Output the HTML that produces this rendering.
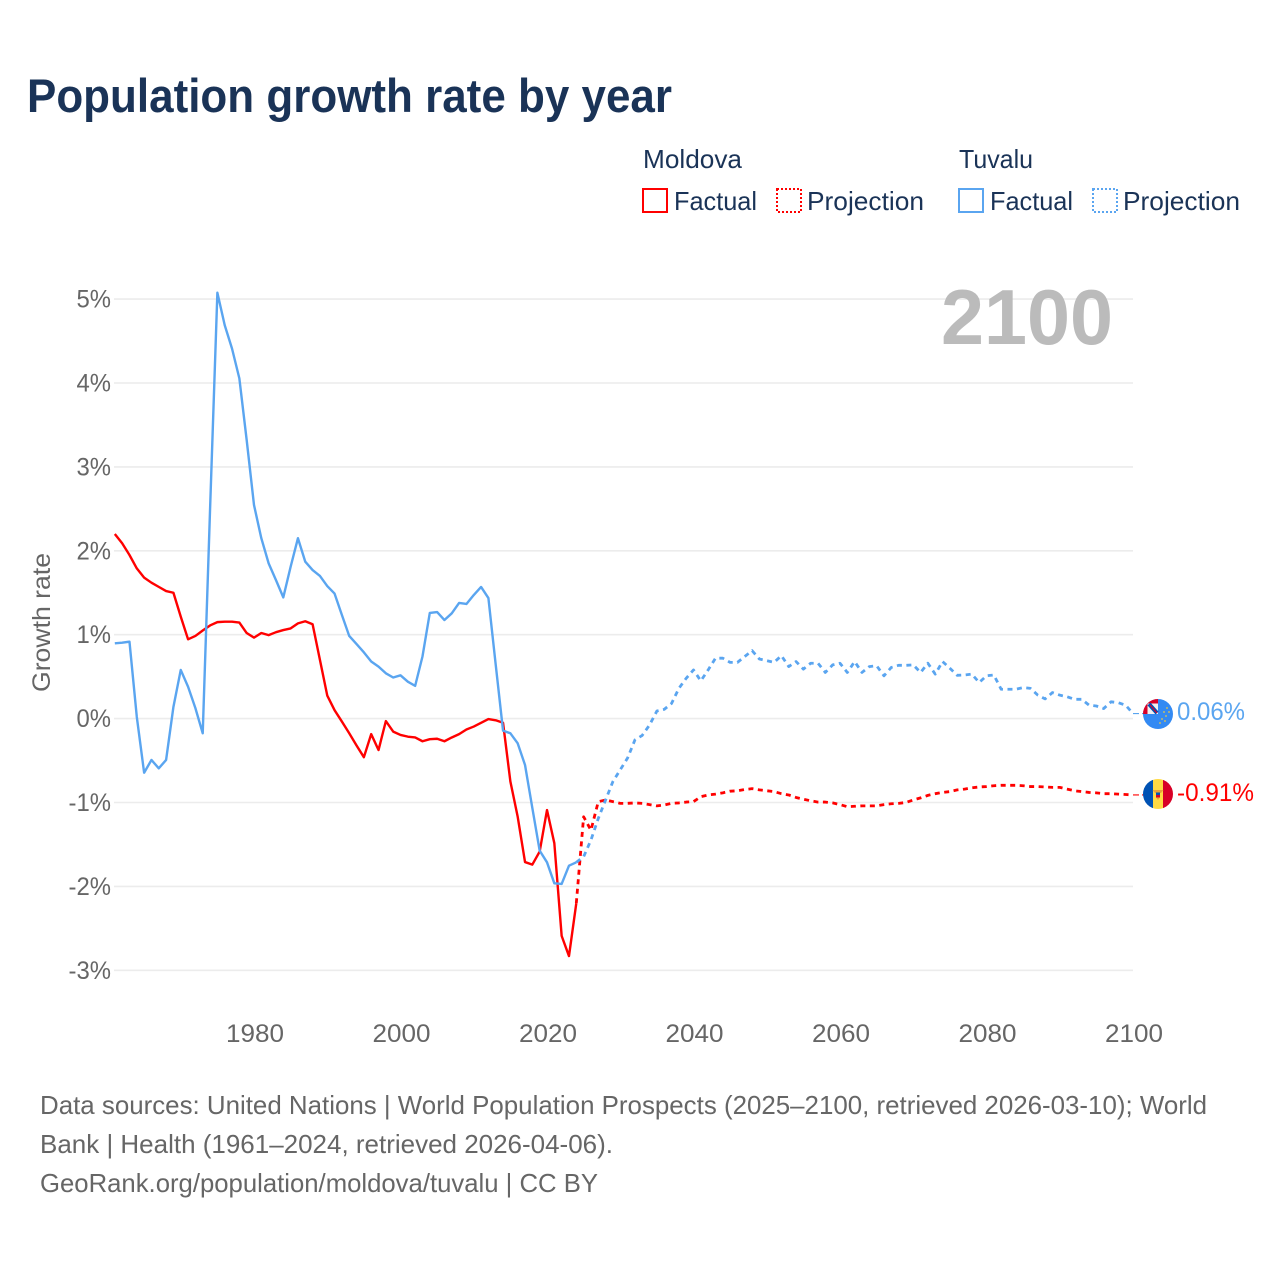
<!DOCTYPE html>
<html lang="en">
<head>
<meta charset="utf-8">
<title>Population growth rate by year</title>
<style>
html,body{margin:0;padding:0;background:#fff}
svg{display:block}
text{font-family:"Liberation Sans",sans-serif}
</style>
</head>
<body>
<svg id="chart" xmlns="http://www.w3.org/2000/svg" width="1280" height="1280" viewBox="0 0 1280 1280">
  <rect width="1280" height="1280" fill="#fff"/>
  <text x="27" y="112" font-size="47" font-weight="700" fill="#1a3357" textLength="645" lengthAdjust="spacingAndGlyphs">Population growth rate by year</text>

  <g font-size="26" fill="#1a3357">
    <text x="643" y="168" textLength="99" lengthAdjust="spacingAndGlyphs">Moldova</text>
    <rect x="643" y="189" width="24" height="23" fill="none" stroke="#ff0000" stroke-width="2"/>
    <text x="674" y="210" textLength="83" lengthAdjust="spacingAndGlyphs">Factual</text>
    <rect x="777" y="189" width="24" height="23" fill="none" stroke="#ff0000" stroke-width="2" stroke-dasharray="2 2"/>
    <text x="807" y="210" textLength="117" lengthAdjust="spacingAndGlyphs">Projection</text>
    <text x="959" y="168" textLength="74" lengthAdjust="spacingAndGlyphs">Tuvalu</text>
    <rect x="959" y="189" width="24" height="23" fill="none" stroke="#5aa5f0" stroke-width="2"/>
    <text x="990" y="210" textLength="83" lengthAdjust="spacingAndGlyphs">Factual</text>
    <rect x="1093" y="189" width="24" height="23" fill="none" stroke="#5aa5f0" stroke-width="2" stroke-dasharray="2 2"/>
    <text x="1123" y="210" textLength="117" lengthAdjust="spacingAndGlyphs">Projection</text>
  </g>

  <g id="grid"></g>
  <g id="yticks" font-size="25" fill="#666" text-anchor="end"></g>
  <g id="xticks" font-size="25" fill="#666" text-anchor="middle"></g>

  <text transform="translate(50,692) rotate(-90)" font-size="25" fill="#666" textLength="139" lengthAdjust="spacingAndGlyphs">Growth rate</text>
  <text x="941" y="344" font-size="78" font-weight="700" fill="#bbbbbb" textLength="172" lengthAdjust="spacingAndGlyphs">2100</text>

  <g id="series"></g>

  <g>
    <clipPath id="tvClip"><circle cx="1158" cy="714" r="15"/></clipPath>
    <g clip-path="url(#tvClip)">
      <rect x="1143" y="699" width="30" height="30" fill="#338af3"/>
      <rect x="1143" y="699" width="15" height="15" fill="#f0f0f0"/>
      <rect x="1143" y="699" width="15" height="4.5" fill="#d80027"/>
      <rect x="1143" y="699" width="4.5" height="15" fill="#d80027"/>
      <path d="M1149 704L1157 713" stroke="#0052b4" stroke-width="4"/>
      <path d="M1150 705L1157 713" stroke="#d80027" stroke-width="1.2"/>
      <g fill="#e8c64a">
        <circle cx="1167" cy="708" r="0.9"/><circle cx="1164" cy="712" r="0.9"/><circle cx="1169" cy="712" r="0.9"/><circle cx="1166" cy="716" r="0.9"/><circle cx="1162" cy="719" r="0.9"/><circle cx="1165" cy="721" r="0.9"/><circle cx="1160" cy="723" r="0.9"/>
      </g>
    </g>
  </g>
  <g>
    <clipPath id="mdClip"><circle cx="1158" cy="794" r="15"/></clipPath>
    <g clip-path="url(#mdClip)">
      <rect x="1143" y="779" width="10" height="30" fill="#0052b4"/>
      <rect x="1153" y="779" width="10" height="30" fill="#ffda44"/>
      <rect x="1163" y="779" width="10" height="30" fill="#d80027"/>
      <path d="M1152.5 790h11l-2.5 3h-6z" fill="#e8a23a"/>
      <rect x="1156" y="792.5" width="4" height="2.6" fill="#0052b4"/>
      <rect x="1156" y="795" width="4" height="2.6" fill="#d80027"/>
      <path d="M1156.5 798h3l-1.5 2z" fill="#e8a23a"/>
    </g>
  </g>
  <text x="1177" y="720" font-size="25" fill="#5aa5f0" textLength="68" lengthAdjust="spacingAndGlyphs">0.06%</text>
  <text x="1177" y="801" font-size="25" fill="#ff0000" textLength="77" lengthAdjust="spacingAndGlyphs">-0.91%</text>

  <g font-size="26" fill="#666">
    <text x="40" y="1114" textLength="1167" lengthAdjust="spacingAndGlyphs">Data sources: United Nations | World Population Prospects (2025–2100, retrieved 2026-03-10); World</text>
    <text x="40" y="1153" textLength="573" lengthAdjust="spacingAndGlyphs">Bank | Health (1961–2024, retrieved 2026-04-06).</text>
    <text x="40" y="1192" textLength="558" lengthAdjust="spacingAndGlyphs">GeoRank.org/population/moldova/tuvalu | CC BY</text>
  </g>
</svg>
<script>
const yTickValues = [5, 4, 3, 2, 1, 0, -1, -2, -3];
const xTickYears = [1980, 2000, 2020, 2040, 2060, 2080, 2100];
const factualStartYear = 1961;
const projectionStartYear = 2024;
const moldovaFactual = [
  2.2,2.09,1.95,1.79,1.68,1.62,1.57,1.52,1.5,1.215,
  0.945,0.985,1.05,1.11,1.15,1.155,1.155,1.145,1.02,0.965,
  1.02,0.995,1.03,1.055,1.075,1.135,1.16,1.125,0.7,0.275,
  0.1,-0.035,-0.175,-0.32,-0.46,-0.185,-0.375,-0.03,-0.155,-0.195,
  -0.215,-0.225,-0.27,-0.245,-0.24,-0.27,-0.225,-0.185,-0.13,-0.095,
  -0.05,-0.005,-0.02,-0.05,-0.75,-1.17,-1.71,-1.74,-1.585,-1.09,
  -1.485,-2.59,-2.83,-2.2
];
const tuvaluFactual = [
  0.897,0.905,0.917,0.02,-0.645,-0.493,-0.593,-0.493,0.14,0.58,
  0.38,0.125,-0.175,2.49,5.076,4.69,4.41,4.055,3.32,2.546,
  2.15,1.85,1.65,1.445,1.81,2.15,1.87,1.77,1.7,1.58,
  1.49,1.235,0.985,0.889,0.79,0.68,0.62,0.54,0.49,0.516,
  0.44,0.39,0.74,1.26,1.27,1.175,1.255,1.378,1.366,1.473,
  1.569,1.437,0.64,-0.144,-0.175,-0.295,-0.553,-1.066,-1.574,-1.713,
  -1.963,-1.971,-1.753,-1.713
];
const moldovaProjection = [
  -2.2,-1.17,-1.33,-0.99,-0.97,-0.99,-1.01,-1.01,-1.005,-1.01,-1.025,
  -1.04,-1.03,-1.01,-1.005,-0.995,-0.99,-0.93,-0.91,-0.9,-0.885,
  -0.865,-0.86,-0.845,-0.835,-0.85,-0.86,-0.87,-0.895,-0.91,-0.94,
  -0.96,-0.98,-0.995,-0.995,-1.005,-1.025,-1.05,-1.045,-1.04,-1.04,
  -1.04,-1.025,-1.015,-1.01,-1,-0.97,-0.945,-0.915,-0.895,-0.88,
  -0.87,-0.85,-0.84,-0.825,-0.815,-0.81,-0.8,-0.795,-0.795,-0.795,
  -0.8,-0.81,-0.81,-0.815,-0.82,-0.82,-0.84,-0.86,-0.87,-0.88,
  -0.885,-0.895,-0.895,-0.9,-0.905,-0.91
];
const tuvaluProjection = [
  -1.713,-1.646,-1.447,-1.19,-0.97,-0.75,-0.61,-0.47,-0.255,-0.2,-0.076,
  0.09,0.11,0.18,0.36,0.48,0.58,0.45,0.58,0.72,0.72,
  0.67,0.67,0.74,0.81,0.71,0.69,0.67,0.75,0.62,0.68,
  0.59,0.66,0.66,0.55,0.64,0.66,0.55,0.68,0.55,0.62,
  0.63,0.51,0.61,0.635,0.635,0.64,0.55,0.66,0.53,0.68,
  0.6,0.516,0.52,0.53,0.43,0.51,0.52,0.35,0.35,0.35,
  0.37,0.36,0.28,0.235,0.31,0.28,0.26,0.23,0.23,0.16,
  0.15,0.12,0.2,0.19,0.16,0.06
];

const SVG_NS = 'http://www.w3.org/2000/svg';
function xScale(year) { return 255 + (year - 1980) * 7.325; }
function xMark(year) { return xScale(year) - 1; }
function yScale(value) { return 718.6 - value * 83.9; }
function make(tag, parent, attrs) {
  const el = document.createElementNS(SVG_NS, tag);
  for (const key in attrs) el.setAttribute(key, attrs[key]);
  parent.appendChild(el);
  return el;
}
function labelWidth(str) {
  let w = 0;
  for (const c of str) w += c === '%' ? 20 : c === '-' ? 8 : 14.5;
  return w;
}
function linePoints(values, startYear) {
  return values.map((v, i) => xMark(startYear + i).toFixed(2) + ',' + yScale(v).toFixed(2)).join(' ');
}

const gridGroup = document.getElementById('grid');
const yTickGroup = document.getElementById('yticks');
yTickValues.forEach(function (v) {
  const line = make('line', gridGroup, { x1: 114, x2: 1133, y1: yScale(v), y2: yScale(v), stroke: '#ececec', 'stroke-width': 1.6 });
  
  
  const str = v + '%';
  const label = make('text', yTickGroup, { x: 111, y: yScale(v) + 8.5, textLength: labelWidth(str), lengthAdjust: 'spacingAndGlyphs' });
  
  
  label.textContent = str;
});

const xTickGroup = document.getElementById('xticks');
xTickYears.forEach(function (year) {
  const label = make('text', xTickGroup, { x: xScale(year), y: 1042, textLength: 58, lengthAdjust: 'spacingAndGlyphs' });
  
  
  label.textContent = year;
});

const seriesGroup = document.getElementById('series');
function drawSeries(values, startYear, color, dashed, name) {
  const attrs = { points: linePoints(values, startYear), fill: 'none', stroke: color, 'stroke-width': dashed ? 2.8 : 2.4, 'stroke-linejoin': 'round' };
  if (dashed) attrs['stroke-dasharray'] = '5 4.5';
  const line = make('polyline', seriesGroup, attrs);
  
  
  return line;
}
function drawConnector(values, color, name) {
  const last = yScale(values[values.length - 1]);
  const line = make('line', seriesGroup, { x1: xMark(2100), x2: 1144, y1: last, y2: last, stroke: color, 'stroke-width': 1.2, 'stroke-dasharray': '6 3' });
  
  
}
drawSeries(moldovaProjection, projectionStartYear, '#ff0000', true, 'moldova-projection-line');
drawSeries(tuvaluProjection, projectionStartYear, '#5aa5f0', true, 'tuvalu-projection-line');
drawSeries(moldovaFactual, factualStartYear, '#ff0000', false, 'moldova-factual-line');
drawSeries(tuvaluFactual, factualStartYear, '#5aa5f0', false, 'tuvalu-factual-line');
drawConnector(moldovaProjection, '#ff0000', 'moldova-end-connector');
drawConnector(tuvaluProjection, '#5aa5f0', 'tuvalu-end-connector');
</script>
</body>
</html>
